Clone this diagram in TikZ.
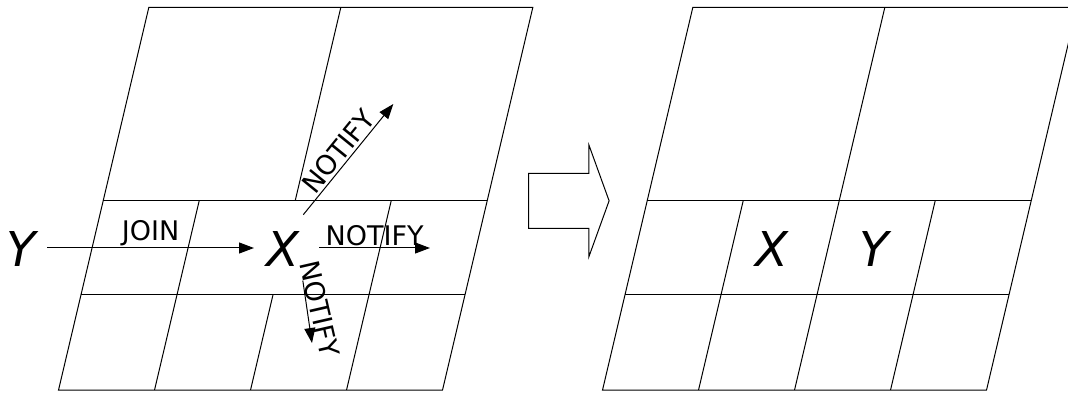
\documentclass[tikz,border=0pt]{standalone}
\usepackage{fontspec}
\setmainfont{DejaVu Sans}
\usetikzlibrary{arrows.meta}
\begin{document}
\begin{tikzpicture}[x=1pt,y=-1pt,
  gridline/.style={line width=1pt, black},
  msg/.style={line width=1pt, black, -{Triangle[length=15pt,width=11pt]}},
  lbl/.style={font=\fontsize{27}{32}\selectfont, inner sep=2pt},
  var/.style={font=\fontsize{48}{56}\selectfont\itshape, inner sep=0pt},
  bigarrow/.style={line width=1pt, black, fill=white}]
\useasboundingbox (0,0) rectangle (1068,395);
\clip (0,0) rectangle (1068,395);
% left grid
\begin{scope}[shift={(103.3,200.3)}, xslant=0.236]
  \draw[gridline] (0,-193) -- (384,-193) -- (384,189.7) -- (0,189.7) -- cycle;
  \draw[gridline] (0,0) -- (384,0);
  \draw[gridline] (0,94.7) -- (384,94.7);
  \draw[gridline] (192,-193) -- (192,0);
  \draw[gridline] (96,0) -- (96,189.7);
  \draw[gridline] (288,0) -- (288,189.7);
  \draw[gridline] (192,94.7) -- (192,189.7);
\end{scope}
% right grid
\begin{scope}[shift={(647.3,200.3)}, xslant=0.236]
  \draw[gridline] (0,-193) -- (384,-193) -- (384,189.7) -- (0,189.7) -- cycle;
  \draw[gridline] (0,0) -- (384,0);
  \draw[gridline] (0,94.7) -- (384,94.7);
  \draw[gridline] (192,-193) -- (192,189.7);
  \draw[gridline] (96,0) -- (96,189.7);
  \draw[gridline] (288,0) -- (288,189.7);
\end{scope}
% big hollow arrow
\draw[bigarrow] (528.7,173.3) -- (588.9,173.3) -- (588.9,145) -- (609.1,200.8)
  -- (588.9,256.7) -- (588.9,228.3) -- (528.7,228.3) -- cycle;
% variables
\node[var] (Y) at (21,249) {Y};
\node[var] (X) at (283,249) {X};
\node[var] (X2) at (772,249.5) {X};
\node[var] (Y2) at (874.5,249.5) {Y};
% arrow end points
\coordinate (j1) at (47.3,248);
\coordinate (j2) at (254,248);
\coordinate (n1) at (319.3,248);
\coordinate (n2) at (430,248);
\coordinate (u1) at (303.3,214.7);
\coordinate (u2) at (393.3,104);
\coordinate (d1) at (302.8,280.5);
\coordinate (d2) at (312,343);
\draw[msg] (j1) -- node[lbl, midway, above] {JOIN} (j2);
\draw[msg] (n1) -- node[lbl, midway, above] {NOTIFY} (n2);
\draw[msg] (u1) -- node[lbl, midway, sloped, above] {NOTIFY} (u2);
\draw[msg] (d1) -- node[lbl, midway, sloped, above, rotate=4.5] {NOTIFY} (d2);
\end{tikzpicture}
\end{document}
